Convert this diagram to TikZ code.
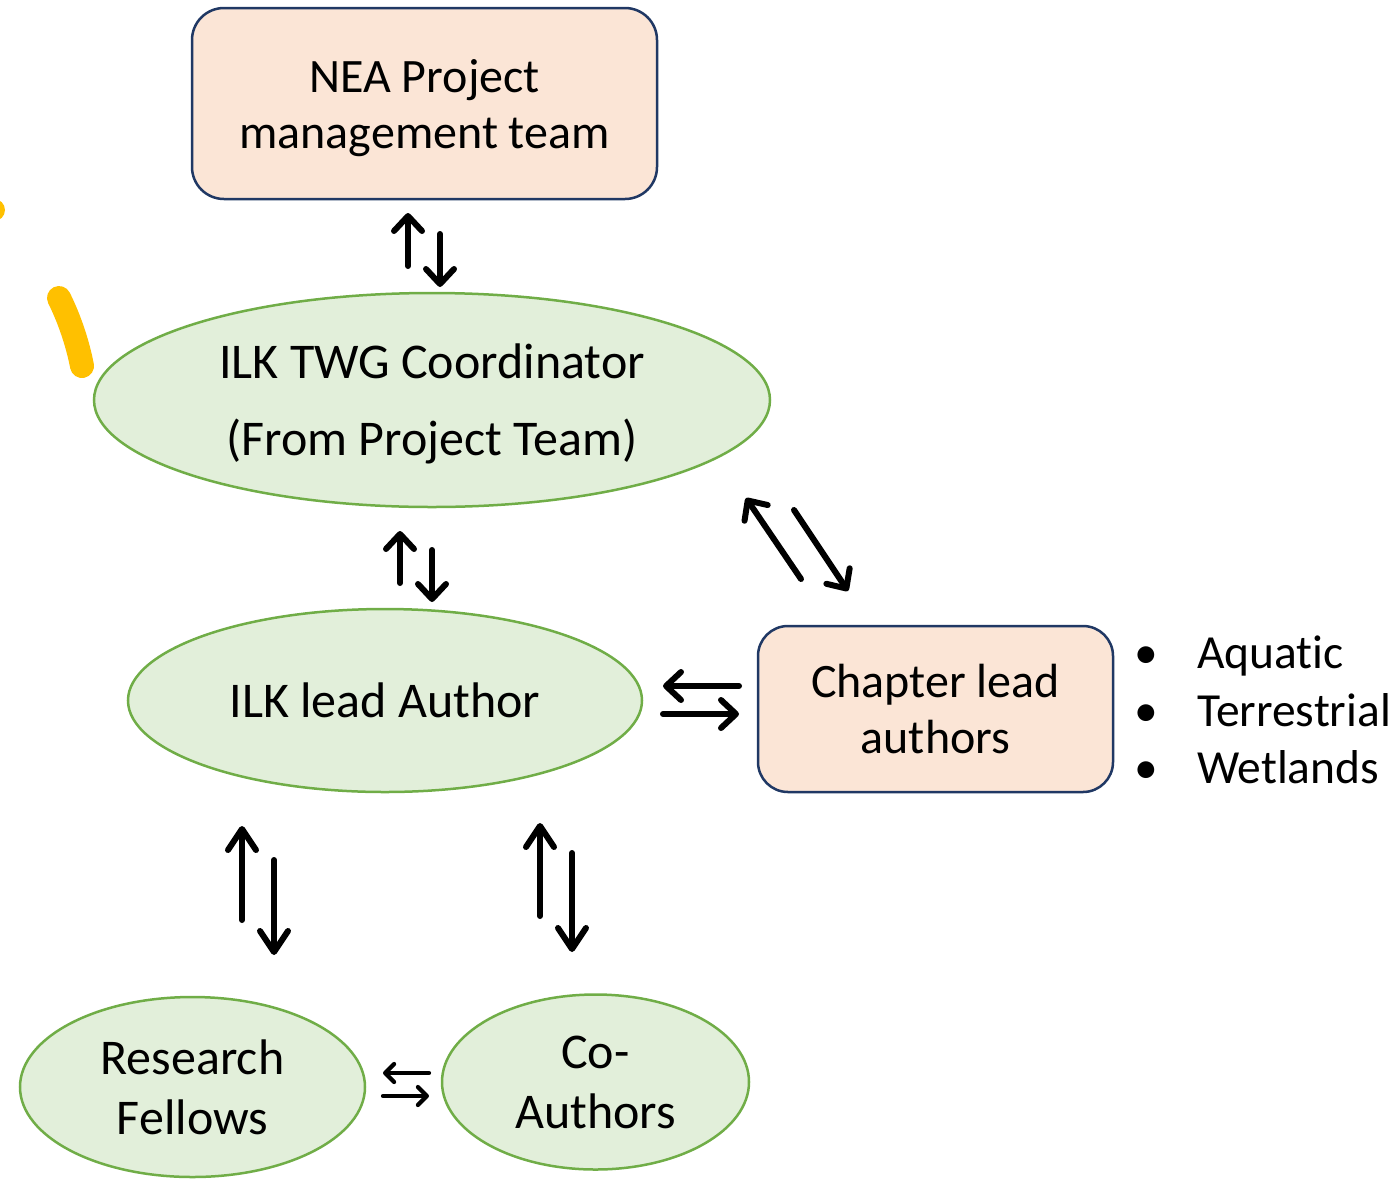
\documentclass[tikz,border=0pt]{standalone}
\usepackage{fontspec}
\setmainfont{Carlito}[RawFeature={-liga}]
\usetikzlibrary{shapes.geometric,arrows.meta}
\definecolor{peach}{HTML}{FBE5D6}
\definecolor{navyline}{HTML}{203864}
\definecolor{leaf}{HTML}{E2EFDA}
\definecolor{leafline}{HTML}{70AD47}
\definecolor{marker}{HTML}{FFC000}
\tikzset{
  body/.style={align=center, inner sep=0pt},
  roundbox/.style={body, font=\fontsize{48}{56}\selectfont, draw=navyline, line width=2.5pt, fill=peach, rounded corners=32pt},
  oval/.style={body, font=\fontsize{50}{60}\selectfont, ellipse, draw=leafline, line width=2.5pt, fill=leaf},
  flow/.style={line width=6pt, line cap=round, line join=round,
    -{Straight Barb[length=15pt,width=28pt,line cap=round,line join=round]}},
  longflow/.style={line width=6pt, line cap=round, line join=round,
    -{Straight Barb[length=21pt,width=28pt,line cap=round,line join=round]}},
  smallflow/.style={line width=4.2pt, line cap=round, line join=round,
    -{Straight Barb[length=9pt,width=18pt,line cap=round,line join=round]}},
  listtext/.style={font=\fontsize{47.5}{57.5}\selectfont, inner sep=0pt, anchor=base west}
}
\begin{document}
\begin{tikzpicture}[x=1pt,y=-1pt]
\useasboundingbox (0,0) rectangle (1399,1178);

% highlighter strokes
\fill[marker] (-6,210) circle (11);
\draw[marker, line width=24pt, line cap=round] (59,298) .. controls (70,320) and (78,345) .. (82,366);

% boxes and ovals
\node[roundbox, text depth=0pt, minimum width=465pt, minimum height=191pt] (nea) at (424.5,103.5) {NEA Project\\management team};
\node[oval, text depth=0pt, minimum width=676pt, minimum height=214pt, font=\fontsize{50}{77}\selectfont] (twg) at (432,400) {ILK TWG Coordinator\\(From Project Team)};
\node[oval, minimum width=514pt, minimum height=183pt] (lead) at (385,700.5) {ILK lead Author};
\node[roundbox, rounded corners=30pt, minimum width=355pt, minimum height=166pt] (chap) at (935.5,709) {Chapter lead\\authors};
\node[oval, minimum width=345pt, minimum height=180pt] (rf) at (192.5,1087) {Research\\Fellows};
\node[oval, minimum width=307pt, minimum height=175pt] (coa) at (595.5,1082) {Co-\\Authors};

% bullet list beside the chapter box
\node[listtext] (b1) at (1134,668) {•};
\node[listtext] (t1) at (1197,668) {Aquat\kern0pt ic};
\node[listtext] (b2) at (1134,726) {•};
\node[listtext] (t2) at (1197,726) {Terrestrial};
\node[listtext] (b3) at (1134,783) {•};
\node[listtext] (t3) at (1197,783) {Wetlands};

% arrow end points
\coordinate (a1s) at (408,266); \coordinate (a1e) at (408,213);
\coordinate (a2s) at (440,234); \coordinate (a2e) at (440,287);
\coordinate (b1s) at (400,583); \coordinate (b1e) at (400,531);
\coordinate (b2s) at (432,550); \coordinate (b2e) at (432,602);
\coordinate (c1s) at (801,579); \coordinate (c1e) at (746,498);
\coordinate (c2s) at (794,510); \coordinate (c2e) at (848,591);
\coordinate (d1s) at (739,686); \coordinate (d1e) at (663,686);
\coordinate (d2s) at (663,714); \coordinate (d2e) at (739,714);
\coordinate (e1s) at (242,920); \coordinate (e1e) at (242,826);
\coordinate (e2s) at (274,860); \coordinate (e2e) at (274,955);
\coordinate (f1s) at (540,916); \coordinate (f1e) at (540,823);
\coordinate (f2s) at (572,853); \coordinate (f2e) at (572,952);
\coordinate (g1s) at (429,1073); \coordinate (g1e) at (383,1073);
\coordinate (g2s) at (383,1096); \coordinate (g2e) at (429,1096);

% exchange arrows
\draw[flow] (a1s) -- (a1e);
\draw[flow] (a2s) -- (a2e);
\draw[flow] (b1s) -- (b1e);
\draw[flow] (b2s) -- (b2e);
\draw[flow] (c1s) -- (c1e);
\draw[flow] (c2s) -- (c2e);
\draw[flow] (d1s) -- (d1e);
\draw[flow] (d2s) -- (d2e);
\draw[longflow] (e1s) -- (e1e);
\draw[longflow] (e2s) -- (e2e);
\draw[longflow] (f1s) -- (f1e);
\draw[longflow] (f2s) -- (f2e);
\draw[smallflow] (g1s) -- (g1e);
\draw[smallflow] (g2s) -- (g2e);
\end{tikzpicture}
\end{document}
